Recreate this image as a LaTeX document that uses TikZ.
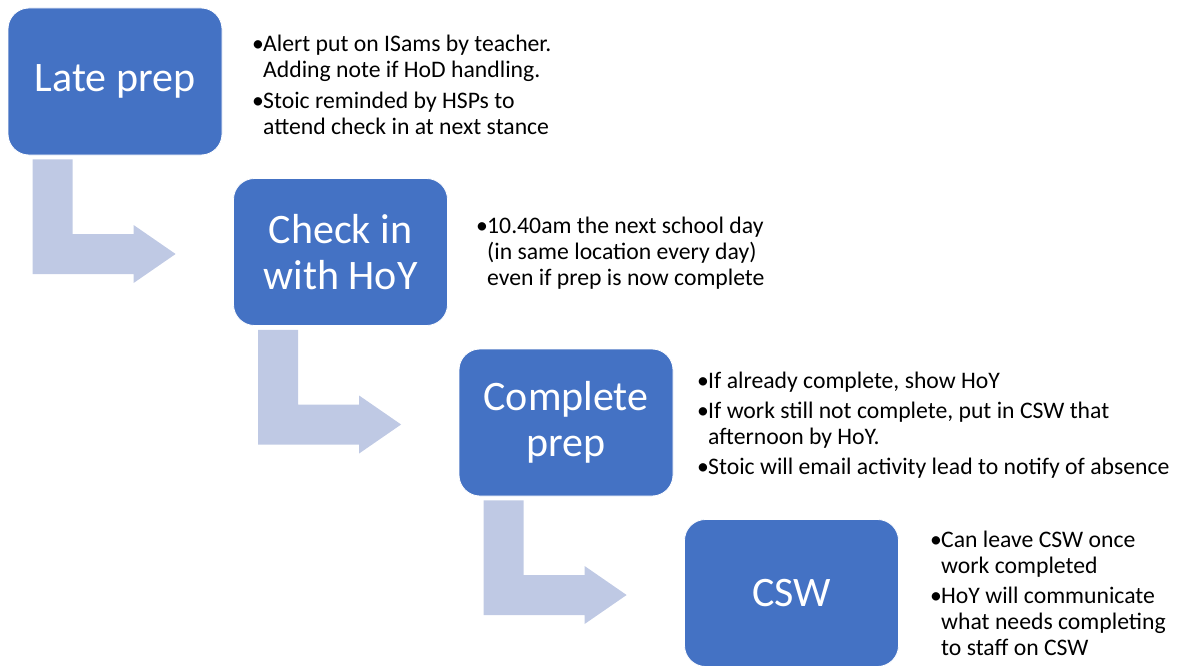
\documentclass[tikz,border=0pt]{standalone}
\usepackage{fontspec}
\setmainfont{Carlito}
\usetikzlibrary{calc}
\definecolor{boxblue}{RGB}{68,114,196}
\definecolor{arrowblue}{RGB}{191,201,228}
\newcommand{\bul}{\makebox[11pt][l]{•}}
\newcommand{\ind}{\hspace*{11pt}}
\begin{document}
\begin{tikzpicture}[x=1pt,y=-1pt,
  stage/.style={rectangle, rounded corners=21pt, fill=boxblue, draw=white, line width=0.8pt,
    minimum width=214pt, minimum height=147pt, inner sep=0pt, align=center, text=white,
    font=\fontsize{42}{46}\selectfont},
  note/.style={anchor=base west, inner sep=0pt, font=\fontsize{23.7}{26}\selectfont, text=black},
  bentarrow/.style={fill=arrowblue}]
\useasboundingbox (0,0) rectangle (1180,666);
\node[stage] (b1) at (115,81.5) {Late prep};
\node[stage] (b2) at (340.5,252) {Check in\\with HoY};
\node[stage] (b3) at (566,422.5) {Complete\\prep};
\node[stage] (b4) at (791.5,593) {CSW};
\foreach \a/\b in {b1/b2,b2/b3,b3/b4}{
  \fill[bentarrow] ($(\a.south west)+(25,4)$) -- ($(\a.south west)+(65,4)$)
     |- ($(\b.west)+(-99.5,-18)$) -- ($(\b.west)+(-99.5,-27)$)
     -- ($(\b.west)+(-57.5,2)$) -- ($(\b.west)+(-99.5,31)$)
     -- ($(\b.west)+(-99.5,22)$) -| ($(\a.south west)+(25,4)$) -- cycle;
}
\node[note] (n1) at (252,52) {\begin{tabular}[t]{@{}l@{}}\bul Alert put on ISams by teacher.\\ \ind Adding note if HoD handling.\\[5pt] \bul Stoic reminded by HSPs to\\ \ind attend check in at next stance\end{tabular}};
\node[note] (n2) at (476,233) {\begin{tabular}[t]{@{}l@{}}\bul 10.40am the next school day\\ \ind (in same location every day)\\ \ind even if prep is now complete\end{tabular}};
\node[note] (n3) at (697,388) {\begin{tabular}[t]{@{}l@{}}\bul If already complete, show HoY\\[4pt] \bul If work still not complete, put in CSW that\\ \ind afternoon by HoY.\\[4pt] \bul Stoic will email activity lead to notify of absence\end{tabular}};
\node[note] (n4) at (930,547) {\begin{tabular}[t]{@{}l@{}}\bul Can leave CSW once\\ \ind work completed\\[4pt] \bul HoY will communicate\\ \ind what needs completing\\ \ind to staff on CSW\end{tabular}};
\end{tikzpicture}
\end{document}
